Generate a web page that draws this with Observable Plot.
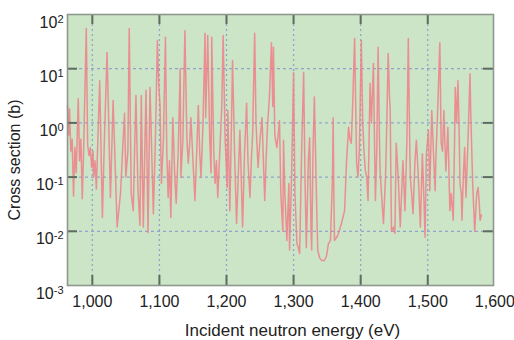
<!DOCTYPE html>
<html>
<head>
<meta charset="utf-8">
<script src="https://cdn.jsdelivr.net/npm/d3@7"></script>
<script src="https://cdn.jsdelivr.net/npm/@observablehq/plot@0.6"></script>
<style>
  html, body { margin: 0; padding: 0; background: #fff; }
  #chart { width: 514px; height: 340px; }
</style>
</head>
<body>
<div id="chart"></div>
<script>
// Incident neutron energy (eV)
const energy = [
  963, 965, 966, 968, 970, 972, 974, 976, 979, 981, 983, 985, 987, 991, 993, 995, 997, 999, 1001, 1002,
  1004, 1006, 1011, 1015, 1018, 1022, 1027, 1031, 1037, 1042, 1046, 1048, 1050, 1053, 1055, 1058, 1061, 1063, 1065, 1068,
  1071, 1073, 1076, 1080, 1083, 1086, 1091, 1094, 1095, 1097, 1099, 1101, 1103, 1106, 1109, 1111, 1113, 1115, 1117, 1120,
  1123, 1125, 1128, 1131, 1132, 1135, 1138, 1141, 1143, 1145, 1147, 1150, 1153, 1156, 1158, 1160, 1162, 1165, 1168, 1169,
  1172, 1175, 1177, 1178, 1181, 1183, 1185, 1187, 1190, 1193, 1195, 1198, 1201, 1202, 1205, 1207, 1209, 1212, 1215, 1218,
  1220, 1222, 1224, 1227, 1230, 1232, 1235, 1237, 1239, 1242, 1244, 1247, 1250, 1253, 1255, 1257, 1259, 1261, 1264, 1267,
  1269, 1270, 1272, 1275, 1277, 1279, 1281, 1284, 1285, 1287, 1290, 1293, 1294, 1297, 1300, 1302, 1305, 1307, 1309, 1312,
  1315, 1317, 1319, 1322, 1324, 1326, 1327, 1329, 1331, 1334, 1336, 1339, 1342, 1346, 1349, 1352, 1355, 1358, 1359, 1360,
  1361, 1365, 1368, 1372, 1376, 1379, 1382, 1384, 1386, 1388, 1391, 1393, 1394, 1396, 1398, 1401, 1403, 1405, 1407, 1409,
  1411, 1414, 1416, 1419, 1420, 1422, 1424, 1426, 1428, 1429, 1431, 1434, 1437, 1439, 1441, 1443, 1444, 1445, 1446, 1449,
  1451, 1453, 1456, 1459, 1461, 1463, 1465, 1466, 1469, 1471, 1473, 1474, 1476, 1478, 1481, 1483, 1486, 1489, 1491, 1492,
  1494, 1496, 1498, 1501, 1503, 1506, 1509, 1511, 1512, 1515, 1518, 1520, 1522, 1524, 1527, 1530, 1533, 1535, 1538, 1540,
  1541, 1543, 1545, 1547, 1548, 1550, 1551, 1553, 1555, 1557, 1560, 1563, 1564, 1566, 1567, 1570, 1573, 1575, 1577, 1578,
  1580
];
// Cross section (b)
const sigma = [
  2.1, 0.6, 1.8, 0.3, 0.5, 0.045, 0.35, 0.12, 2.8, 0.2, 0.5, 0.04, 0.3, 55, 0.4, 0.25, 0.35, 0.15, 0.3, 0.1,
  0.2, 0.06, 6.0, 0.018, 0.5, 20, 0.042, 2.6, 0.012, 0.05, 0.5, 1.5, 0.1, 0.3, 55, 0.05, 0.024, 0.3, 3.2, 0.06,
  0.013, 3.2, 0.012, 4.0, 0.0095, 4.5, 0.021, 0.5, 2.0, 33, 5, 2, 0.076, 0.5, 38, 0.3, 0.042, 0.2, 0.018, 1.25,
  0.1, 0.033, 0.3, 10, 0.098, 0.5, 50, 0.5, 0.18, 0.4, 1.25, 0.2, 0.037, 0.4, 2.1, 0.3, 0.098, 1.0, 45, 1.25,
  41, 0.5, 0.12, 38, 0.3, 0.076, 0.2, 0.042, 0.3, 2.0, 41, 0.5, 0.064, 1.7, 0.024, 0.5, 14, 0.3, 0.014, 0.15,
  0.73, 0.1, 0.012, 0.3, 2.3, 0.2, 0.042, 0.2, 0.63, 45, 1.0, 0.15, 0.5, 1.25, 0.2, 0.037, 0.2, 0.83, 3.0, 30,
  2.0, 25, 0.6, 0.35, 0.6, 1.1, 0.05, 0.01, 0.48, 0.05, 0.0068, 0.076, 0.0045, 0.1, 8.5, 0.05, 0.0059, 0.005, 0.0039, 0.3,
  8.5, 0.1, 0.005, 0.2, 0.53, 0.01, 0.0045, 0.3, 3.0, 0.05, 0.0045, 0.0032, 0.0029, 0.0029, 0.0035, 0.0059, 0.0068, 0.1, 1.25, 0.05,
  0.0068, 0.008, 0.01, 0.015, 0.024, 0.2, 0.83, 0.5, 0.42, 2.0, 36, 1.0, 0.18, 0.1, 0.3, 33, 1.0, 0.3, 0.13, 0.1,
  0.037, 5.4, 1.0, 12.5, 1.5, 0.037, 0.3, 25, 0.5, 0.13, 0.05, 0.014, 0.1, 1.0, 19, 3, 1.7, 0.1, 0.01, 0.012,
  0.0092, 0.42, 0.1, 0.012, 0.05, 0.2, 0.05, 0.024, 0.5, 36, 0.5, 0.098, 0.05, 0.021, 0.2, 0.48, 0.1, 0.012, 0.1, 0.27,
  0.05, 0.0078, 0.27, 0.73, 0.056, 1.7, 0.2, 0.056, 0.2, 2.0, 30, 0.42, 0.3, 1.7, 0.13, 0.83, 0.024, 0.05, 0.016, 0.5,
  4.5, 1.0, 6.0, 0.5, 0.076, 0.05, 0.016, 0.1, 0.35, 0.042, 0.5, 8.1, 1.7, 0.2, 0.076, 0.01, 0.05, 0.064, 0.03, 0.016,
  0.02
];
const xTicks = [1000, 1100, 1200, 1300, 1400, 1500, 1600];
const yTicks = [1e-3, 1e-2, 1e-1, 1e0, 1e1, 1e2];
const xDomain = [963, 1598];
const yDomain = [1e-3, 1e2];

const data = energy.map((e, i) => ({e, s: sigma[i]}));

const W = 514, H = 340, mL = 67, mR = 21, mT = 14, mB = 55;
const plotW = W - mL - mR, plotH = H - mT - mB;
const tickLen = 10;
const tickColor = "#5f6b5f";
const gridColor = "#8c9ccc";

const chart = Plot.plot({
  width: W,
  height: H,
  marginLeft: mL,
  marginRight: mR,
  marginTop: mT,
  marginBottom: mB,
  style: {fontFamily: "'Liberation Sans', Arial, Helvetica, sans-serif", fontSize: "16px", background: "#fff", color: "#222"},
  x: {domain: xDomain},
  y: {type: "log", domain: yDomain},
  marks: [
    Plot.frame({fill: "#cbe5c6", stroke: null}),
    Plot.gridX(xTicks.filter(d => d < xDomain[1] - 5), {stroke: gridColor, strokeOpacity: 0.9, strokeWidth: 1.3, strokeDasharray: "2,3"}),
    Plot.gridY(yTicks.slice(1, -1), {stroke: gridColor, strokeOpacity: 0.9, strokeWidth: 1.3, strokeDasharray: "3,3"}),
    Plot.line(data, {x: "e", y: "s", stroke: "#f07f88", strokeWidth: 1.5, strokeOpacity: 0.85}),
    Plot.tickX(xTicks.filter(d => d < xDomain[1] - 5), {stroke: tickColor, strokeWidth: 2, insetTop: plotH - tickLen}),
    Plot.tickX(xTicks.filter(d => d < xDomain[1] - 5), {stroke: tickColor, strokeWidth: 2, insetBottom: plotH - tickLen}),
    Plot.tickY(yTicks.slice(1, -1), {stroke: tickColor, strokeWidth: 2, insetRight: plotW - tickLen}),
    Plot.tickY(yTicks.slice(1, -1), {stroke: tickColor, strokeWidth: 2, insetLeft: plotW - tickLen}),
    Plot.frame({stroke: "#8e988e", strokeWidth: 1.6}),
    Plot.axisX(xTicks, {
      anchor: "bottom", tickSize: 0, tickPadding: 10,
      tickFormat: d3.format(","),
      label: "Incident neutron energy (eV)", labelAnchor: "center", labelOffset: 50, labelArrow: "none",
      fontSize: 16
    }),
    Plot.axisY(yTicks, {
      anchor: "left", tickSize: 0, tickPadding: 4,
      tickFormat: d => String(Math.round(Math.log10(d))),
      label: "Cross section (b)", labelAnchor: "center", labelOffset: 56, labelArrow: "none",
      fontSize: 16
    })
  ]
});

// superscript exponents on y tick labels
chart.querySelectorAll('g[aria-label="y-axis tick label"] text').forEach(t => {
  const exp = t.textContent.replace("−", "-");
  while (t.firstChild) t.removeChild(t.firstChild);
  const ns = "http://www.w3.org/2000/svg";
  const base = document.createElementNS(ns, "tspan");
  base.textContent = "10";
  const sup = document.createElementNS(ns, "tspan");
  sup.textContent = exp;
  sup.setAttribute("font-size", "11");
  sup.setAttribute("dy", "-0.45em");
  t.appendChild(base);
  t.appendChild(sup);
  t.setAttribute("dy", "0.5em");
});
// nudge axis titles to match the reference placement
const xl = chart.querySelector('g[aria-label="x-axis label"]');
if (xl) { xl.setAttribute("transform", "translate(12,0) " + (xl.getAttribute("transform") || "")); xl.setAttribute("font-size", "17"); }
const yl = chart.querySelector('g[aria-label="y-axis label"]');
if (yl) yl.setAttribute("transform", "translate(-3,10) " + (yl.getAttribute("transform") || ""));

document.getElementById("chart").appendChild(chart);
</script>
</body>
</html>
